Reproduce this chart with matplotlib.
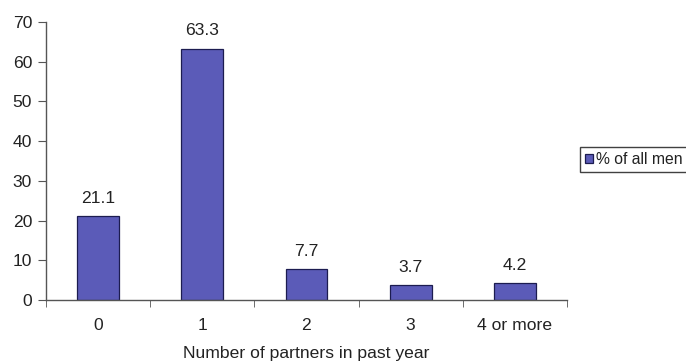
import matplotlib
matplotlib.use("Agg")
import matplotlib.pyplot as plt
import numpy as np

categories = ["0", "1", "2", "3", "4 or more"]
values = [21.1, 63.3, 7.7, 3.7, 4.2]
series_name = "% of all men"
yticks = [0, 10, 20, 30, 40, 50, 60, 70]

plt.rcParams["font.family"] = ["Liberation Sans", "DejaVu Sans"]
text_color = "#222222"
axis_color = "#555555"
fs = 12.6

fig = plt.figure(figsize=(6.86, 3.64), dpi=100)
ax = fig.add_axes([46 / 686, 1 - 300 / 364, (567 - 46) / 686, (300 - 22) / 364])

x = np.arange(len(categories))
bars = ax.bar(x, values, width=0.4, color="#5B5BB8", edgecolor="#1C1C50",
              linewidth=0.9, label=series_name)

for xi, v in zip(x, values):
    ax.text(xi, v + 2.6, f"{v:g}", ha="center", va="bottom", fontsize=fs,
            color=text_color)

ax.set_xlim(-0.5, len(categories) - 0.5)
ax.set_ylim(0, 70)
ax.set_yticks(yticks)
ax.set_yticklabels([str(t) for t in yticks], fontsize=fs, color=text_color)

# category labels centred, tick marks on the category boundaries
ax.set_xticks(x)
ax.set_xticklabels(categories, fontsize=fs, color=text_color)
ax.tick_params(axis="x", which="major", length=0, pad=13)
ax.set_xticks(np.arange(-0.5, len(categories)), minor=True)
ax.tick_params(axis="x", which="minor", length=5, direction="out", color=axis_color)
ax.tick_params(axis="y", length=6, direction="out", color=axis_color, pad=4)

for side in ("top", "right"):
    ax.spines[side].set_visible(False)
for side in ("left", "bottom"):
    ax.spines[side].set_color(axis_color)
    ax.spines[side].set_linewidth(1.0)

ax.set_xlabel("Number of partners in past year", fontsize=fs, color=text_color,
              labelpad=9)

leg = fig.legend(handles=[bars], labels=[series_name], loc="center left",
                 bbox_to_anchor=(580 / 686, 1 - 159.5 / 364), fontsize=11.3,
                 frameon=True, fancybox=False, handlelength=0.55, handleheight=0.55,
                 handletextpad=0.15, borderpad=0.3, borderaxespad=0)
leg.get_frame().set_edgecolor("#111111")
leg.get_frame().set_linewidth(1.0)
for t in leg.get_texts():
    t.set_color(text_color)

fig.savefig("out.png", dpi=100)
